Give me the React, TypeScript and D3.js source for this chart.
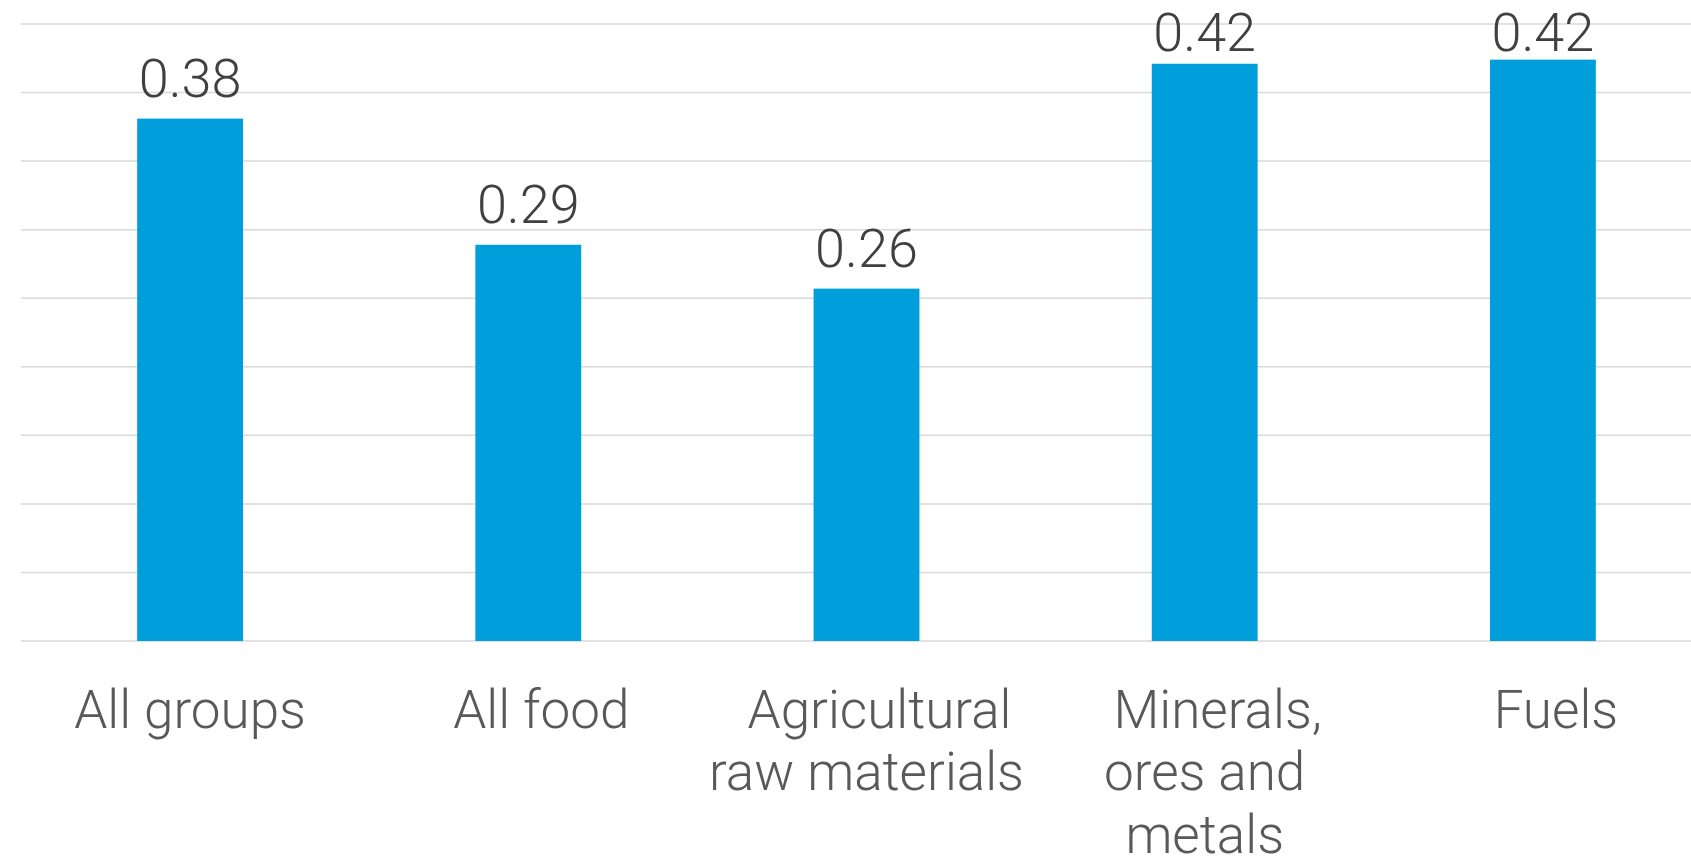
import React from "react";
import * as d3 from "d3";

const categories = ["All groups", "All food", "Agricultural raw materials", "Minerals, ores and metals", "Fuels"];
const categoryLines = [["All groups"], ["All food"], ["Agricultural", "raw materials"], ["Minerals,", "ores and", "metals"], ["Fuels"]];
const values = [0.381, 0.289, 0.257, 0.421, 0.424];
const gridTicks = [0, 0.05, 0.1, 0.15, 0.2, 0.25, 0.3, 0.35, 0.4, 0.45];

const W = 1691;
const H = 856;
const FONT = "Roboto, 'Liberation Sans', Arial, sans-serif";

export default function App() {
  const x = d3.scaleBand<string>().domain(categories).range([21, 1712]).paddingInner(0.687).paddingOuter(0.3435);
  const y = d3.scaleLinear().domain([0, 0.45]).range([641, 24]);
  const fmt = d3.format(".2f");

  return (
    <svg width={W} height={H} style={{ position: "absolute", left: 0, top: 0, background: "#fff" }}>
      {gridTicks.map((t) => (
        <line key={t} x1={21} x2={W} y1={y(t)} y2={y(t)} stroke="#d9d9d9" strokeWidth={1.5} />
      ))}
      {categories.map((c, i) => (
        <rect key={c} x={x(c)!} y={y(values[i])} width={x.bandwidth()} height={y(0) - y(values[i])} fill="#009fdb" />
      ))}
      {categories.map((c, i) => (
        <text
          key={"v" + c}
          x={x(c)! + x.bandwidth() / 2}
          y={Math.max(y(values[i]) - 22, 51)}
          textAnchor="middle"
          fontFamily={FONT}
          fontWeight={300}
          fontSize={54}
          fill="#404040"
        >
          {fmt(values[i])}
        </text>
      ))}
      {categories.map((c, i) => (
        <text key={"c" + c} textAnchor="middle" fontFamily={FONT} fontWeight={300} fontSize={53} fill="#595959">
          {categoryLines[i].map((ln, j) => (
            <tspan key={j} x={x(c)! + x.bandwidth() / 2 + (j === 0 && i > 0 ? 13 : 0)} y={727.5 + j * 62.5}>
              {ln}
            </tspan>
          ))}
        </text>
      ))}
    </svg>
  );
}
